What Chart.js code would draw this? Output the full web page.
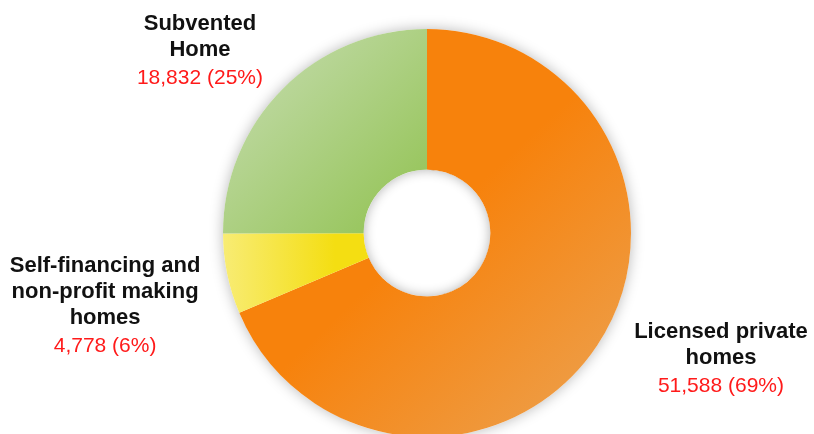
<!DOCTYPE html>
<html>
<head>
<meta charset="utf-8">
<script src="https://cdn.jsdelivr.net/npm/chart.js@4/dist/chart.umd.min.js"></script>
<style>
  html, body { margin: 0; padding: 0; background: #fff; overflow: hidden; }
  #wrap { position: relative; width: 814px; height: 440px; }
</style>
</head>
<body>
<div id="wrap"><canvas id="chart"></canvas></div>
<script>
// Datos (sentido horario desde las 12)
const categorias = [
    ['Licensed private', 'homes'],
    ['Self-financing and', 'non-profit making', 'homes'],
    ['Subvented', 'Home']
];
const valores = [51588, 4778, 18832];
const porcentajes = [69, 6, 25];

// Colores: [tono intenso, tono claro] para cada degradado
const colores = [
    ['#F7820C', '#EE9C44'],
    ['#F4DE12', '#F8EC74'],
    ['#99C65F', '#BBD79C']
];

// Posición de cada etiqueta respecto al centro, en radios exteriores
const posEtiquetas = [
    { dx: 1.441, dy: 0.515 },
    { dx: -1.578, dy: 0.191 },
    { dx: -1.113, dy: -0.995 }
];

const FUENTE = '"Liberation Sans", Arial, Helvetica, sans-serif';

function degradado(ctx, i) {
    const chart = ctx.chart;
    const area = chart.chartArea;
    if (!area) return colores[i][0];
    const c = chart.ctx;
    const cx = (area.left + area.right) / 2;
    const cy = (area.top + area.bottom) / 2;
    const r = Math.min(area.right - area.left, area.bottom - area.top) / 2;
    let g;
    if (i === 0) {
        // naranja: se aclara hacia abajo a la derecha
        g = c.createLinearGradient(cx + r * 0.05, cy - r * 0.05, cx + r * 0.8, cy + r * 0.75);
        g.addColorStop(0, colores[0][0]);
        g.addColorStop(1, colores[0][1]);
    } else if (i === 1) {
        // amarillo: claro a la izquierda
        g = c.createLinearGradient(cx - r, cy, cx - r * 0.45, cy);
        g.addColorStop(0, colores[1][1]);
        g.addColorStop(1, colores[1][0]);
    } else {
        // verde: claro arriba a la izquierda
        g = c.createLinearGradient(cx - r * 0.75, cy - r * 0.75, cx - r * 0.15, cy - r * 0.15);
        g.addColorStop(0, colores[2][1]);
        g.addColorStop(1, colores[2][0]);
    }
    return g;
}

// Sombra exterior del anillo y sombra interior del hueco
const sombras = {
    id: 'sombras',
    beforeDatasetsDraw(chart) {
        const arc = chart.getDatasetMeta(0).data[0];
        if (!arc) return;
        const c = chart.ctx;
        c.save();
        c.shadowColor = 'rgba(0,0,0,0.28)';
        c.shadowBlur = 14;
        c.fillStyle = '#ffffff';
        c.beginPath();
        c.arc(arc.x, arc.y, arc.outerRadius, 0, Math.PI * 2);
        c.fill();
        c.restore();
    },
    afterDatasetsDraw(chart) {
        const arc = chart.getDatasetMeta(0).data[0];
        if (!arc) return;
        const c = chart.ctx;
        const ri = arc.innerRadius;
        c.save();
        c.beginPath();
        c.arc(arc.x, arc.y, ri, 0, Math.PI * 2);
        c.clip();
        c.shadowColor = 'rgba(0,0,0,0.3)';
        c.shadowBlur = 12;
        c.lineWidth = 20;
        c.strokeStyle = '#ffffff';
        c.beginPath();
        c.arc(arc.x, arc.y, ri + 10, 0, Math.PI * 2);
        c.stroke();
        c.restore();
    }
};

// Etiquetas: nombre en negrita y valor en rojo
const etiquetas = {
    id: 'etiquetas',
    afterDraw(chart) {
        const arc = chart.getDatasetMeta(0).data[0];
        if (!arc) return;
        const c = chart.ctx;
        const R = arc.outerRadius;
        c.save();
        c.textAlign = 'center';
        c.textBaseline = 'alphabetic';
        categorias.forEach((lineas, i) => {
            const x = arc.x + posEtiquetas[i].dx * R;
            let y = arc.y + posEtiquetas[i].dy * R;
            c.font = 'bold 22px ' + FUENTE;
            c.fillStyle = '#111111';
            lineas.forEach((t, k) => {
                if (k > 0) y += 26;
                c.fillText(t, x, y);
            });
            y += 28;
            c.font = '21px ' + FUENTE;
            c.fillStyle = '#FF1A1A';
            c.fillText(valores[i].toLocaleString('en-US') + ' (' + porcentajes[i] + '%)', x, y);
        });
        c.restore();
    }
};

new Chart(document.getElementById('chart'), {
    type: 'doughnut',
    data: {
        labels: categorias.map(l => l.join(' ')),
        datasets: [{
            data: valores,
            backgroundColor: ctx => degradado(ctx, ctx.dataIndex),
            borderWidth: 0,
            hoverOffset: 0
        }]
    },
    options: {
        responsive: true,
        maintainAspectRatio: false,
        animation: false,
        cutout: '31%',
        layout: { padding: { top: 29, bottom: 3, left: 40, right: 0 } },
        plugins: {
            legend: { display: false },
            tooltip: { enabled: false }
        }
    },
    plugins: [sombras, etiquetas]
});
</script>
</body>
</html>
